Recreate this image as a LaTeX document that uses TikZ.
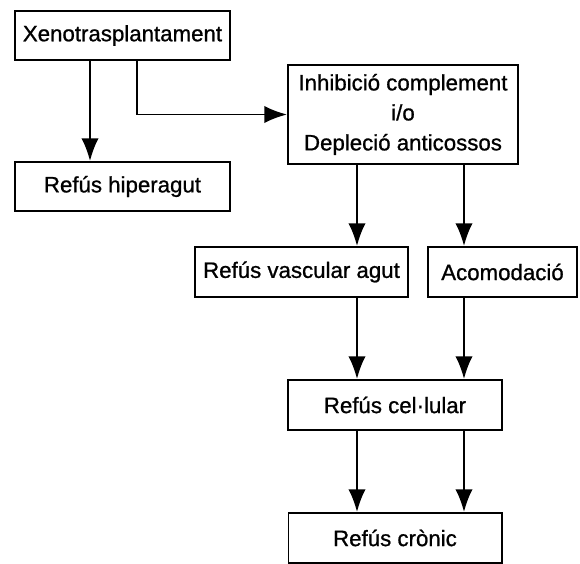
\documentclass[tikz,border=0pt]{standalone}
\usepackage{fontspec}
\setmainfont{Liberation Sans}
\newfontfamily\boxfont{Liberation Sans}[FakeBold=0.9]
\usetikzlibrary{arrows.meta,calc,positioning}
\tikzset{%
	block/.style    = {draw, rectangle, line width=1.7pt, minimum height=1.5cm, inner sep=0pt, align=center, font=\boxfont\fontsize{19}{25.6}\selectfont},
	waypoint/.style = {coordinate}, % column of arrows
	arrow/.style    = {line width=1.7pt, -{Latex[length=0.68cm, width=0.52cm]}},
}

\begin{document}
\begin{tikzpicture}[x=0.03cm, y=-0.03cm, node distance=4.53cm]
	\useasboundingbox (0,0) rectangle (580,564);
	\node [block, minimum width=6.45cm, minimum height=1.47cm] (xeno) at (122.5,35.5) {Xenotrasplantament};
	\node [block, minimum width=6.45cm, minimum height=1.47cm] (hiper) [below of=xeno] {Refús hiperagut};
	\node [block, minimum width=6.9cm, minimum height=2.97cm] (inhib) at (403,114.5) {Inhibició complement\\i/o\\Depleció anticossos};
	\node [block, minimum width=6.39cm] (vasc) at (301.5,272) {Refús vascular agut};
	\node [block, minimum width=4.47cm] (acom) at (502.5,272) {Acomodació};
	\node [block, minimum width=6.42cm] (cel) at (395,405) {Refús cel·lular};
	\node [block, minimum width=6.39cm] (cron) [below of=cel, node distance=3.99cm] {Refús crònic};
	\node [waypoint] (colA) at (90,0) {};
	\node [waypoint] (colB) at (137,0) {};
	\node [waypoint] (colL) at (357,0) {};
	\node [waypoint] (colR) at (464,0) {};

	\draw[arrow] (xeno.south -| colA) -- (hiper.north -| colA);
	\draw[arrow] (xeno.south -| colB) |- (inhib.west);
	\draw[arrow] (inhib.south -| colL) -- (vasc.north -| colL);
	\draw[arrow] (inhib.south -| colR) -- (acom.north -| colR);
	\draw[arrow] (vasc.south -| colL) -- (cel.north -| colL);
	\draw[arrow] (acom.south -| colR) -- (cel.north -| colR);
	\draw[arrow] (cel.south -| colL) -- (cron.north -| colL);
	\draw[arrow] (cel.south -| colR) -- (cron.north -| colR);
\end{tikzpicture}
\end{document}
